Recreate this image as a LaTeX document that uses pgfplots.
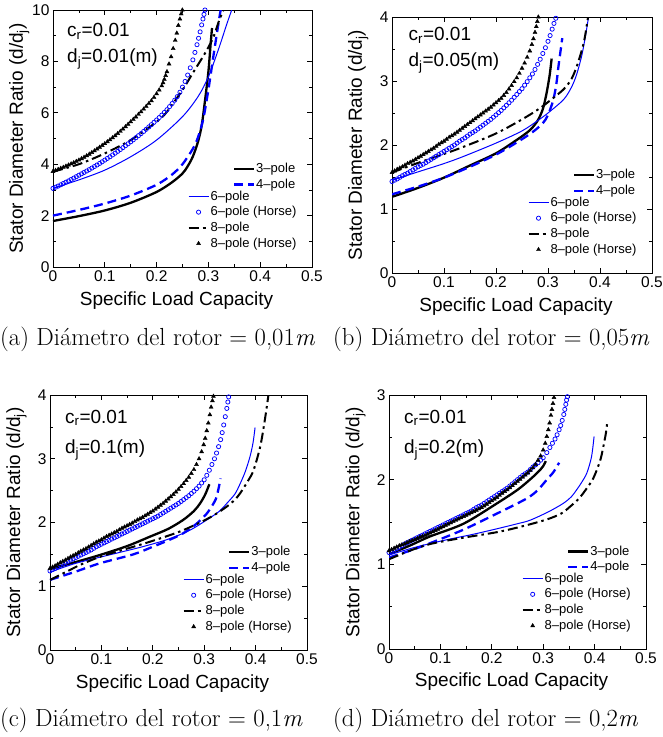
\documentclass[border=0pt]{standalone}
\usepackage{fontspec}
\usepackage{pgfplots}
\pgfplotsset{compat=1.18}
\newfontfamily\arial{Liberation Sans}

\pgfplotsset{
  panel/.style={
    scale only axis, anchor=south west,
    xmin=0, xmax=0.5, ymin=0,
    xtick={0,0.1,0.2,0.3,0.4,0.5},
    minor x tick num=1, minor y tick num=1,
    major tick length=5pt, minor tick length=3pt,
    every tick/.append style={black, line width=0.7pt},
    axis line style={line width=0.8pt},
    tick label style={font=\arial\fontsize{15.5}{18}\selectfont},
    /pgf/number format/assume math mode=true,
    label style={font=\arial\fontsize{19}{22}\selectfont},
    xlabel={Specific Load Capacity},
    ylabel={Stator Diameter Ratio (d/d\textsubscript{j})},
    xlabel style={at={(axis description cs:0.477,-0.13)}, anchor=center},
    ylabel style={at={(axis description cs:-0.13,0.5)}, anchor=center},
    legend cell align=left,
    legend style={draw=none, fill=none, inner sep=0pt, at={(0.945,0.06)}, anchor=south east,
      font=\arial\fontsize{13}{14}\selectfont, row sep=0pt,
      nodes={inner sep=1pt, text height=10.5pt, text depth=3.2pt}},
    legend image code/.code={\draw[mark repeat=2,mark phase=2,##1] plot coordinates {(0pt,0pt) (10pt,0pt) (20pt,0pt)};},
  },
  over/.style={
    scale only axis, anchor=south west, hide axis,
    xmin=0, xmax=0.5, ymin=0,
    legend cell align=left,
    legend style={draw=none, fill=none, inner sep=0pt, at={(0.94,0.29)}, anchor=south east,
      font=\arial\fontsize{13}{14}\selectfont, row sep=0pt,
      nodes={inner sep=1pt, text height=10.5pt, text depth=3.2pt}},
    legend image code/.code={\draw[mark repeat=2,mark phase=2,##1] plot coordinates {(0pt,0pt) (10pt,0pt) (20pt,0pt)};},
  },
  p3/.style={black, line width=2.3pt, smooth, no marks},
  p4/.style={blue, line width=2.3pt, dash pattern=on 9pt off 5pt, smooth, no marks},
  p6/.style={blue, line width=1pt, smooth, no marks},
  p8/.style={black, line width=2pt, dash pattern=on 10pt off 4pt on 2.5pt off 4pt, smooth, no marks},
  h6/.style={blue, only marks, mark=o, mark size=2.1pt, mark options={line width=0.75pt}},
  h8/.style={black, only marks, mark=triangle*, mark size=2.3pt},
}
\newcommand\annfont{\arial\fontsize{19}{22}\selectfont}
\newcommand\capfont{\fontsize{24.7}{28}\selectfont}

\begin{document}
\begin{tikzpicture}
\useasboundingbox (0,0) rectangle (662pt,-737pt);

% ---------------- (a) d_j = 0.01
\begin{axis}[panel, at={(53pt,-267pt)}, width=259pt, height=257pt, ymax=10, ytick={0,2,4,6,8,10}]
\addplot[p3, forget plot] coordinates {(0,1.79) (0.05,1.98) (0.1,2.2) (0.15,2.5) (0.2,2.92) (0.23,3.3) (0.25,3.64) (0.26,3.92) (0.27,4.3) (0.28,4.88) (0.287,5.5) (0.293,6.4) (0.3,7.6) (0.304,8.6) (0.307,9.3)};
\addplot[p4, forget plot] coordinates {(0,2.0) (0.05,2.22) (0.1,2.47) (0.15,2.78) (0.2,3.2) (0.23,3.6) (0.25,4.0) (0.27,4.6) (0.28,5.05) (0.29,5.75) (0.3,6.9) (0.31,8.25) (0.32,9.55) (0.3237,10)};
\addplot[p6] coordinates {(0,3.06) (0.05,3.39) (0.1,3.77) (0.15,4.29) (0.2,4.94) (0.25,5.85) (0.28,6.63) (0.3,7.4) (0.32,8.5) (0.335,9.42) (0.345,10)};
\addlegendentry{6–pole}
\addplot[h6] coordinates {(0,3.06) (0.005,3.105) (0.01,3.15) (0.015,3.2) (0.02,3.25) (0.025,3.3) (0.03,3.35) (0.035,3.405) (0.04,3.46) (0.045,3.515) (0.05,3.57) (0.055,3.625) (0.06,3.68) (0.065,3.735) (0.07,3.79) (0.075,3.85) (0.08,3.91) (0.085,3.97) (0.09,4.03) (0.095,4.095) (0.1,4.16) (0.105,4.225) (0.11,4.29) (0.115,4.36) (0.12,4.43) (0.125,4.5) (0.13,4.57) (0.135,4.645) (0.14,4.72) (0.145,4.795) (0.15,4.87) (0.155,4.95) (0.16,5.03) (0.165,5.11) (0.17,5.19) (0.175,5.275) (0.18,5.36) (0.185,5.45) (0.19,5.54) (0.195,5.63) (0.2,5.72) (0.205,5.815) (0.21,5.91) (0.215,6.015) (0.22,6.12) (0.225,6.24) (0.23,6.36) (0.235,6.49) (0.24,6.63) (0.245,6.8) (0.25,7.0) (0.255,7.22) (0.26,7.47) (0.265,7.75) (0.27,8.06) (0.274,8.35) (0.278,8.65) (0.281,8.9) (0.284,9.15) (0.287,9.42) (0.2895,9.65) (0.2915,9.83) (0.2934,10.0)};
\addlegendentry{6–pole (Horse)}
\addplot[p8] coordinates {(0,3.71) (0.05,4.0) (0.1,4.42) (0.15,4.94) (0.2,5.65) (0.22,6.04) (0.25,6.89) (0.27,7.55) (0.29,8.2) (0.3,8.55) (0.31,8.96) (0.32,9.55) (0.329,10)};
\addlegendentry{8–pole}
\addplot[h8] coordinates {(0,3.72) (0.005,3.76) (0.01,3.8) (0.015,3.84) (0.02,3.88) (0.025,3.925) (0.03,3.97) (0.035,4.015) (0.04,4.06) (0.045,4.11) (0.05,4.16) (0.055,4.215) (0.06,4.27) (0.065,4.33) (0.07,4.39) (0.075,4.455) (0.08,4.52) (0.085,4.59) (0.09,4.66) (0.095,4.73) (0.1,4.8) (0.105,4.875) (0.11,4.95) (0.115,5.03) (0.12,5.11) (0.125,5.195) (0.13,5.28) (0.135,5.37) (0.14,5.46) (0.145,5.555) (0.15,5.65) (0.155,5.745) (0.16,5.84) (0.165,5.94) (0.17,6.04) (0.175,6.145) (0.18,6.25) (0.185,6.36) (0.19,6.47) (0.195,6.6) (0.2,6.74) (0.205,6.89) (0.21,7.05) (0.2125,7.17) (0.215,7.3) (0.2175,7.45) (0.22,7.6) (0.224,7.9) (0.228,8.18) (0.232,8.5) (0.236,8.82) (0.239,9.1) (0.242,9.4) (0.245,9.65) (0.2475,9.85) (0.2497,10.0)};
\addlegendentry{8–pole (Horse)}
\node[anchor=base west, inner sep=0pt, font=\annfont] at (rel axis cs:0.054,0.896) {c\textsubscript{r}=0.01};
\node[anchor=base west, inner sep=0pt, font=\annfont] at (rel axis cs:0.054,0.795) {d\textsubscript{j}=0.01(m)};
\end{axis}
\begin{axis}[over, at={(53pt,-267pt)}, width=259pt, height=257pt, ymax=10]
\addlegendimage{p3}\addlegendentry{3–pole}
\addlegendimage{p4}\addlegendentry{4–pole}
\end{axis}

% ---------------- (b) d_j = 0.05
\begin{axis}[panel, at={(392pt,-273pt)}, width=260pt, height=256pt, ymax=4, ytick={0,1,2,3,4}]
\addplot[p3, forget plot] coordinates {(0,1.19) (0.05,1.33) (0.1,1.49) (0.15,1.68) (0.2,1.87) (0.24,2.08) (0.265,2.23) (0.28,2.38) (0.29,2.56) (0.297,2.8) (0.303,3.08) (0.307,3.35)};
\addplot[p4, forget plot] coordinates {(0,1.23) (0.05,1.35) (0.1,1.49) (0.15,1.66) (0.2,1.85) (0.24,2.04) (0.27,2.2) (0.29,2.34) (0.3,2.47) (0.31,2.7) (0.316,2.95) (0.32,3.22) (0.3275,3.67)};
\addplot[p6] coordinates {(0,1.45) (0.05,1.58) (0.1,1.71) (0.137,1.82) (0.2,2.03) (0.25,2.22) (0.28,2.38) (0.3,2.5) (0.33,2.71) (0.345,2.9) (0.355,3.1) (0.365,3.4) (0.372,3.7) (0.378,4.0)};
\addlegendentry{6–pole}
\addplot[h6] coordinates {(0,1.43) (0.005,1.45) (0.01,1.47) (0.015,1.495) (0.02,1.52) (0.025,1.54) (0.03,1.56) (0.035,1.585) (0.04,1.61) (0.045,1.635) (0.05,1.66) (0.055,1.68) (0.06,1.7) (0.065,1.725) (0.07,1.75) (0.075,1.775) (0.08,1.8) (0.085,1.825) (0.09,1.85) (0.095,1.875) (0.1,1.9) (0.105,1.925) (0.11,1.95) (0.115,1.975) (0.12,2.0) (0.125,2.03) (0.13,2.06) (0.135,2.085) (0.14,2.11) (0.145,2.14) (0.15,2.17) (0.155,2.195) (0.16,2.22) (0.165,2.25) (0.17,2.28) (0.175,2.31) (0.18,2.34) (0.185,2.37) (0.19,2.4) (0.195,2.435) (0.2,2.47) (0.205,2.505) (0.21,2.54) (0.215,2.58) (0.22,2.62) (0.225,2.66) (0.23,2.7) (0.235,2.745) (0.24,2.79) (0.245,2.835) (0.25,2.88) (0.255,2.935) (0.26,2.99) (0.265,3.05) (0.27,3.11) (0.275,3.18) (0.28,3.26) (0.285,3.34) (0.29,3.43) (0.295,3.52) (0.3,3.62) (0.304,3.71) (0.308,3.81) (0.3115,3.9) (0.315,3.98)};
\addlegendentry{6–pole (Horse)}
\addplot[p8] coordinates {(0,1.57) (0.05,1.72) (0.1,1.86) (0.137,1.97) (0.2,2.18) (0.25,2.4) (0.28,2.55) (0.3,2.67) (0.33,2.87) (0.345,3.03) (0.355,3.22) (0.365,3.48) (0.371,3.69) (0.377,4.0)};
\addlegendentry{8–pole}
\addplot[h8] coordinates {(0,1.57) (0.005,1.595) (0.01,1.62) (0.015,1.64) (0.02,1.66) (0.025,1.685) (0.03,1.71) (0.035,1.73) (0.04,1.75) (0.045,1.775) (0.05,1.8) (0.055,1.825) (0.06,1.85) (0.065,1.875) (0.07,1.9) (0.075,1.925) (0.08,1.95) (0.085,1.98) (0.09,2.01) (0.095,2.035) (0.1,2.06) (0.105,2.09) (0.11,2.12) (0.115,2.145) (0.12,2.17) (0.125,2.2) (0.13,2.23) (0.135,2.26) (0.14,2.29) (0.145,2.32) (0.15,2.35) (0.155,2.38) (0.16,2.41) (0.165,2.44) (0.17,2.47) (0.175,2.5) (0.18,2.53) (0.185,2.56) (0.19,2.59) (0.195,2.625) (0.2,2.66) (0.205,2.695) (0.21,2.73) (0.215,2.775) (0.22,2.82) (0.225,2.875) (0.23,2.93) (0.235,2.99) (0.24,3.05) (0.245,3.12) (0.25,3.2) (0.255,3.28) (0.26,3.37) (0.265,3.47) (0.269,3.57) (0.272,3.66) (0.275,3.76) (0.2775,3.85) (0.2795,3.93) (0.2814,4.0)};
\addlegendentry{8–pole (Horse)}
\node[anchor=base west, inner sep=0pt, font=\annfont] at (rel axis cs:0.063,0.907) {c\textsubscript{r}=0.01};
\node[anchor=base west, inner sep=0pt, font=\annfont] at (rel axis cs:0.063,0.806) {d\textsubscript{j}=0.05(m)};
\end{axis}
\begin{axis}[over, at={(392pt,-273pt)}, width=260pt, height=256pt, ymax=4]
\addlegendimage{p3}\addlegendentry{3–pole}
\addlegendimage{p4}\addlegendentry{4–pole}
\end{axis}

% ---------------- (c) d_j = 0.1
\begin{axis}[panel, at={(50pt,-650pt)}, width=257pt, height=255pt, ymax=4, ytick={0,1,2,3,4}]
\addplot[p3, forget plot] coordinates {(0,1.27) (0.05,1.38) (0.097,1.49) (0.15,1.63) (0.195,1.78) (0.23,1.9) (0.259,2.04) (0.28,2.18) (0.292,2.3) (0.302,2.44) (0.31,2.6)};
\addplot[p4, forget plot] coordinates {(0,1.1) (0.05,1.23) (0.097,1.36) (0.162,1.5) (0.2,1.62) (0.23,1.72) (0.259,1.83) (0.285,1.98) (0.305,2.14) (0.316,2.27) (0.324,2.4) (0.332,2.69)};
\addplot[p6] coordinates {(0,1.22) (0.05,1.36) (0.13,1.52) (0.18,1.62) (0.227,1.73) (0.27,1.87) (0.305,2.04) (0.33,2.18) (0.344,2.3) (0.36,2.45) (0.37,2.61) (0.38,2.8) (0.389,3.03) (0.395,3.25) (0.399,3.49)};
\addlegendentry{6–pole}
\addplot[h6] coordinates {(0,1.24) (0.005,1.26) (0.01,1.28) (0.015,1.305) (0.02,1.33) (0.025,1.35) (0.03,1.37) (0.035,1.39) (0.04,1.41) (0.045,1.43) (0.05,1.45) (0.055,1.47) (0.06,1.49) (0.065,1.51) (0.07,1.53) (0.075,1.55) (0.08,1.57) (0.085,1.595) (0.09,1.62) (0.095,1.64) (0.1,1.66) (0.105,1.68) (0.11,1.7) (0.115,1.72) (0.12,1.74) (0.125,1.76) (0.13,1.78) (0.135,1.8) (0.14,1.82) (0.145,1.84) (0.15,1.86) (0.155,1.88) (0.16,1.9) (0.165,1.92) (0.17,1.94) (0.175,1.96) (0.18,1.98) (0.185,2.0) (0.19,2.02) (0.195,2.04) (0.2,2.06) (0.205,2.08) (0.21,2.1) (0.215,2.125) (0.22,2.15) (0.225,2.175) (0.23,2.2) (0.235,2.225) (0.24,2.25) (0.245,2.275) (0.25,2.3) (0.255,2.33) (0.26,2.36) (0.265,2.39) (0.27,2.42) (0.275,2.455) (0.28,2.49) (0.285,2.53) (0.29,2.57) (0.295,2.62) (0.3,2.67) (0.305,2.74) (0.31,2.82) (0.315,2.91) (0.32,3.0) (0.324,3.09) (0.328,3.19) (0.332,3.3) (0.335,3.41) (0.338,3.53) (0.341,3.66) (0.344,3.79) (0.346,3.89) (0.3476,3.97)};
\addlegendentry{6–pole (Horse)}
\addplot[p8] coordinates {(0,1.1) (0.03,1.22) (0.06,1.34) (0.1,1.47) (0.15,1.59) (0.195,1.7) (0.25,1.85) (0.292,2.0) (0.32,2.12) (0.344,2.25) (0.36,2.36) (0.37,2.46) (0.385,2.65) (0.396,2.82) (0.409,3.19) (0.418,3.61) (0.425,4.0)};
\addlegendentry{8–pole}
\addplot[h8] coordinates {(0,1.28) (0.005,1.3) (0.01,1.32) (0.015,1.345) (0.02,1.37) (0.025,1.39) (0.03,1.41) (0.035,1.435) (0.04,1.46) (0.045,1.48) (0.05,1.5) (0.055,1.525) (0.06,1.55) (0.065,1.57) (0.07,1.59) (0.075,1.615) (0.08,1.64) (0.085,1.665) (0.09,1.69) (0.095,1.71) (0.1,1.73) (0.105,1.755) (0.11,1.78) (0.115,1.8) (0.12,1.82) (0.125,1.84) (0.13,1.86) (0.135,1.885) (0.14,1.91) (0.145,1.93) (0.15,1.95) (0.155,1.97) (0.16,1.99) (0.165,2.015) (0.17,2.04) (0.175,2.06) (0.18,2.08) (0.185,2.105) (0.19,2.13) (0.195,2.155) (0.2,2.18) (0.205,2.21) (0.21,2.24) (0.215,2.27) (0.22,2.3) (0.225,2.335) (0.23,2.37) (0.235,2.405) (0.24,2.44) (0.245,2.48) (0.25,2.52) (0.255,2.565) (0.26,2.61) (0.265,2.66) (0.27,2.71) (0.275,2.77) (0.28,2.83) (0.285,2.91) (0.29,3.0) (0.295,3.11) (0.299,3.22) (0.302,3.32) (0.305,3.44) (0.308,3.56) (0.311,3.69) (0.3135,3.81) (0.316,3.91) (0.318,3.98)};
\addlegendentry{8–pole (Horse)}
\node[anchor=base west, inner sep=0pt, font=\annfont] at (rel axis cs:0.058,0.889) {c\textsubscript{r}=0.01};
\node[anchor=base west, inner sep=0pt, font=\annfont] at (rel axis cs:0.058,0.77) {d\textsubscript{j}=0.1(m)};
\end{axis}
\begin{axis}[over, at={(50pt,-650pt)}, width=257pt, height=255pt, ymax=4]
\addlegendimage{p3}\addlegendentry{3–pole}
\addlegendimage{p4}\addlegendentry{4–pole}
\end{axis}

% ---------------- (d) d_j = 0.2
\begin{axis}[panel, at={(389pt,-649pt)}, width=257pt, height=254pt, ymax=3, ytick={0,1,2,3}]
\addplot[p3, forget plot] coordinates {(0,1.12) (0.04,1.22) (0.08,1.33) (0.145,1.48) (0.21,1.72) (0.25,1.88) (0.274,2.0) (0.29,2.09) (0.3,2.16) (0.305,2.22)};
\addplot[p4, forget plot] coordinates {(0,1.08) (0.04,1.16) (0.08,1.25) (0.145,1.41) (0.21,1.6) (0.25,1.72) (0.274,1.8) (0.29,1.88) (0.307,2.0) (0.32,2.09) (0.331,2.2)};
\addplot[p6] coordinates {(0,1.11) (0.05,1.2) (0.112,1.29) (0.16,1.35) (0.21,1.42) (0.25,1.48) (0.274,1.52) (0.31,1.62) (0.339,1.72) (0.355,1.8) (0.365,1.88) (0.375,1.97) (0.385,2.08) (0.394,2.27) (0.399,2.51)};
\addlegendentry{6–pole}
\addplot[h6] coordinates {(0,1.14) (0.005,1.155) (0.01,1.17) (0.015,1.185) (0.02,1.2) (0.025,1.22) (0.03,1.24) (0.035,1.255) (0.04,1.27) (0.045,1.285) (0.05,1.3) (0.055,1.315) (0.06,1.33) (0.065,1.345) (0.07,1.36) (0.075,1.375) (0.08,1.39) (0.085,1.405) (0.09,1.42) (0.095,1.435) (0.1,1.45) (0.105,1.465) (0.11,1.48) (0.115,1.495) (0.12,1.51) (0.125,1.525) (0.13,1.54) (0.135,1.555) (0.14,1.57) (0.145,1.585) (0.15,1.6) (0.155,1.615) (0.16,1.63) (0.165,1.65) (0.17,1.67) (0.175,1.685) (0.18,1.7) (0.185,1.72) (0.19,1.74) (0.195,1.76) (0.2,1.78) (0.205,1.8) (0.21,1.82) (0.215,1.84) (0.22,1.86) (0.225,1.88) (0.23,1.9) (0.235,1.925) (0.24,1.95) (0.245,1.975) (0.25,2.0) (0.255,2.025) (0.26,2.05) (0.265,2.07) (0.27,2.09) (0.275,2.12) (0.28,2.15) (0.285,2.175) (0.29,2.2) (0.295,2.23) (0.3,2.26) (0.307,2.32) (0.313,2.38) (0.318,2.43) (0.323,2.48) (0.327,2.53) (0.331,2.59) (0.334,2.64) (0.337,2.7) (0.34,2.77) (0.342,2.83) (0.344,2.89) (0.3455,2.94) (0.347,2.98)};
\addlegendentry{6–pole (Horse)}
\addplot[p8] coordinates {(0,1.06) (0.04,1.16) (0.08,1.24) (0.14,1.31) (0.21,1.38) (0.26,1.45) (0.307,1.53) (0.335,1.6) (0.352,1.68) (0.37,1.78) (0.385,1.9) (0.396,2.0) (0.404,2.11) (0.412,2.25) (0.417,2.39) (0.422,2.55) (0.425,2.7)};
\addlegendentry{8–pole}
\addplot[h8] coordinates {(0,1.16) (0.005,1.175) (0.01,1.19) (0.015,1.205) (0.02,1.22) (0.025,1.23) (0.03,1.24) (0.035,1.255) (0.04,1.27) (0.045,1.28) (0.05,1.29) (0.055,1.305) (0.06,1.32) (0.065,1.33) (0.07,1.34) (0.075,1.355) (0.08,1.37) (0.085,1.385) (0.09,1.4) (0.095,1.415) (0.1,1.43) (0.105,1.445) (0.11,1.46) (0.115,1.475) (0.12,1.49) (0.125,1.505) (0.13,1.52) (0.135,1.535) (0.14,1.55) (0.145,1.565) (0.15,1.58) (0.155,1.595) (0.16,1.61) (0.165,1.625) (0.17,1.64) (0.175,1.655) (0.18,1.67) (0.185,1.69) (0.19,1.71) (0.195,1.73) (0.2,1.75) (0.205,1.77) (0.21,1.79) (0.215,1.815) (0.22,1.84) (0.225,1.86) (0.23,1.88) (0.235,1.905) (0.24,1.93) (0.245,1.955) (0.25,1.98) (0.255,2.005) (0.26,2.03) (0.265,2.055) (0.27,2.08) (0.275,2.11) (0.28,2.14) (0.285,2.18) (0.29,2.23) (0.295,2.28) (0.3,2.35) (0.304,2.43) (0.307,2.51) (0.31,2.59) (0.3125,2.67) (0.315,2.76) (0.317,2.83) (0.319,2.9) (0.321,2.97)};
\addlegendentry{8–pole (Horse)}
\node[anchor=base west, inner sep=0pt, font=\annfont] at (rel axis cs:0.058,0.889) {c\textsubscript{r}=0.01};
\node[anchor=base west, inner sep=0pt, font=\annfont] at (rel axis cs:0.058,0.77) {d\textsubscript{j}=0.2(m)};
\end{axis}
\begin{axis}[over, at={(389pt,-649pt)}, width=257pt, height=254pt, ymax=3]
\addlegendimage{p3}\addlegendentry{3–pole}
\addlegendimage{p4}\addlegendentry{4–pole}
\end{axis}

% ---------------- captions
\node[anchor=base west, inner sep=0pt, font=\capfont] at (0pt,-345pt) {(a) Diámetro del rotor = 0,01\textit{m}};
\node[anchor=base west, inner sep=0pt, font=\capfont] at (333pt,-345pt) {(b) Diámetro del rotor = 0,05\textit{m}};
\node[anchor=base west, inner sep=0pt, font=\capfont] at (0pt,-726pt) {(c) Diámetro del rotor = 0,1\textit{m}};
\node[anchor=base west, inner sep=0pt, font=\capfont] at (333pt,-726pt) {(d) Diámetro del rotor = 0,2\textit{m}};
\end{tikzpicture}
\end{document}
